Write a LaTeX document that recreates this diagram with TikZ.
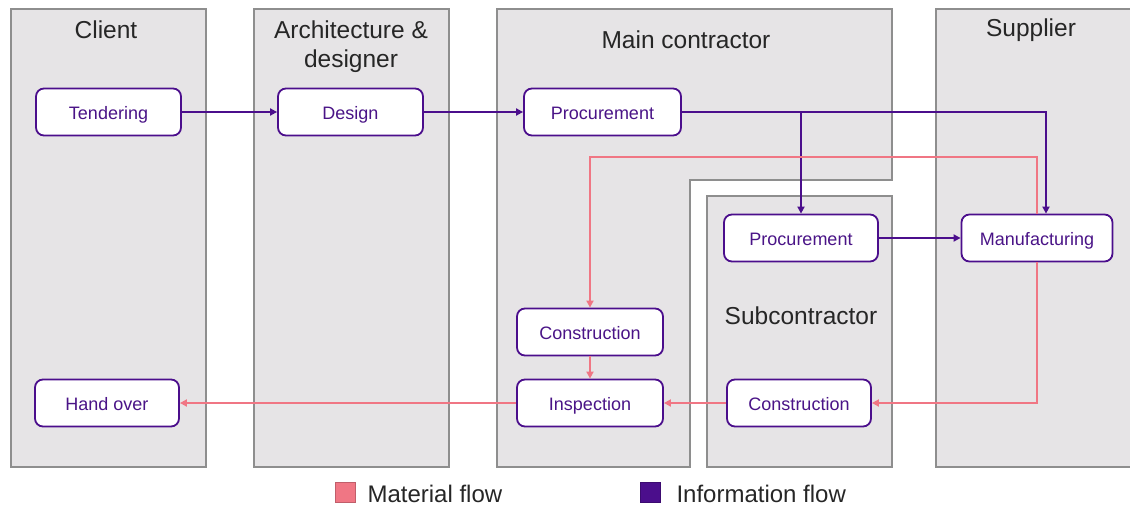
\documentclass[tikz,border=0pt]{standalone}
\usepackage{fontspec}
\setmainfont{Liberation Sans}
\usetikzlibrary{arrows.meta}
\definecolor{lanefill}{HTML}{E6E4E6}
\definecolor{laneline}{HTML}{8E8E8E}
\definecolor{infoc}{HTML}{4B0E8C}
\definecolor{matc}{HTML}{F07684}
\definecolor{boxtext}{HTML}{4A1487}
\tikzset{
  lane/.style={fill=lanefill, draw=laneline, line width=2pt},
  lanetitle/.style={font=\fontsize{24.5}{29}\selectfont, text=black!85, align=center},
  task/.style={draw=infoc, fill=white, line width=1.8pt, rounded corners=8pt,
    minimum height=47pt, text=boxtext, font=\fontsize{18}{21}\selectfont,
    text height=16.5pt, text depth=2.5pt},
  info/.style={draw=infoc, line width=1.8pt, -{Triangle[length=7pt,width=7pt]}},
  mat/.style={draw=matc, line width=1.8pt, -{Triangle[length=7pt,width=7pt]}},
  legtext/.style={font=\fontsize{24}{28}\selectfont, text=black!85, anchor=west}
}
\begin{document}
\begin{tikzpicture}[x=1pt,y=-1pt]
\useasboundingbox (0,0) rectangle (1130,506);
% swimlanes
\path[lane] (11,9) rectangle (206,467);
\path[lane] (254,9) rectangle (449,467);
\path[lane] (497,9) -- (892,9) -- (892,180) -- (690,180) -- (690,467) -- (497,467) -- cycle;
\path[lane] (707,196) rectangle (892,467);
\path[lane] (936,9) rectangle (1140,467);
% lane titles
\node[lanetitle] (tclient) at (106,30) {Client};
\node[lanetitle] (tarch) at (351,47) {Architecture \&\\designer};
\node[lanetitle] (tmain) at (686,40) {Main contractor};
\node[lanetitle] (tsup) at (1031,30) {Supplier};
\node[lanetitle] (tsub) at (801,316) {Subcontractor};
% tasks
\node[task, minimum width=145pt] (tender) at (108.5,112) {Tendering};
\node[task, minimum width=145pt] (design) at (350.5,112) {Design};
\node[task, minimum width=157pt] (procm) at (602.5,112) {Procurement};
\node[task, minimum width=154pt] (procs) at (801,238) {Procurement};
\node[task, minimum width=151pt] (manu) at (1037,238) {Manufacturing};
\node[task, minimum width=146pt] (consm) at (590,332) {Construction};
\node[task, minimum width=146pt] (insp) at (590,403) {Inspection};
\node[task, minimum width=144pt] (conss) at (799,403) {Construction};
\node[task, minimum width=144pt] (hand) at (107,403) {Hand over};
% routing points
\coordinate (br) at (801,112);
\coordinate (mtop) at (1046,112);
% information flow
\draw[info] (tender) -- (design);
\draw[info] (design) -- (procm);
\draw[info] (procm) -- (mtop) -- (manu.north -| mtop);
\draw[info] (br) -- (procs);
\draw[info] (procs) -- (manu);
% material flow
\draw[mat] (manu.north) -- (1037,157) -- (590,157) -- (consm);
\draw[mat] (consm) -- (insp);
\draw[mat] (manu.south) -- (1037,403) -- (conss);
\draw[mat] (conss) -- (insp);
\draw[mat] (insp) -- (hand);
% legend
\node[fill=matc, draw=matc!80!black, line width=0.6pt, minimum size=20pt, inner sep=0pt] (lmat) at (345,492) {};
\node[legtext] (lmatt) at (364,494) {Material flow};
\node[fill=infoc, draw=infoc!80!black, line width=0.6pt, minimum size=20pt, inner sep=0pt] (linf) at (650,492) {};
\node[legtext] (linft) at (673,494) {Information flow};
\end{tikzpicture}
\end{document}
